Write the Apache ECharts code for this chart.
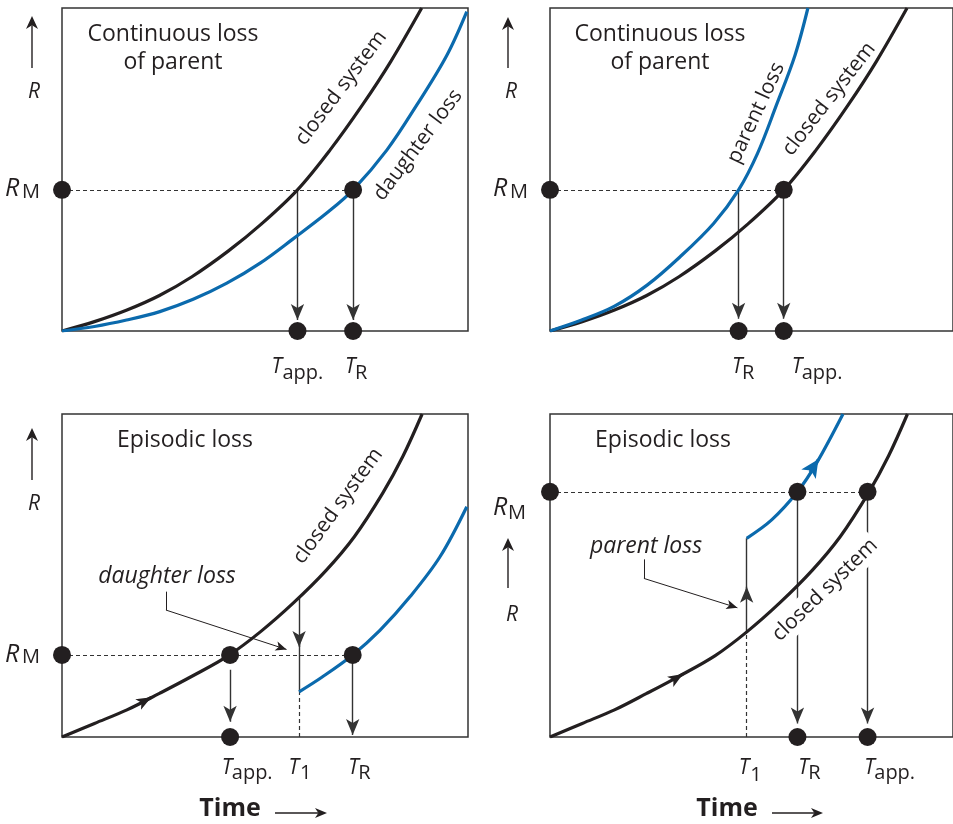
<!DOCTYPE html>
<html>
<head>
<meta charset="utf-8">
<script src="https://cdn.jsdelivr.net/npm/echarts@6/dist/echarts.min.js"></script>
<style>
  html, body { margin: 0; padding: 0; background: #fff; }
  #main { width: 953px; height: 824px; }
</style>
</head>
<body>
<div id="main"></div>
<script>
var INK = '#231f20', BLUE = '#0b6aad', RULE = '#333333';
var SANS = '"Open Sans", "Noto Sans", sans-serif';

// closed-system growth curve (time %, R %), top row and bottom row
var closedTopT = [0, 8, 16, 24, 32, 41, 49, 58, 66, 74, 81, 88.6];
var closedTopR = [0, 2.9, 6.5, 11, 16.8, 24.8, 33, 43.7, 56, 70, 83.5, 100];
var closedBotT = [0, 8, 16, 24, 32, 41, 49, 57, 65, 72, 79, 84, 88.7];
var closedBotR = [0, 4.2, 8.4, 13.5, 18.8, 25.2, 32.7, 41.5, 51.5, 62, 75.5, 87, 100];

// continuous daughter loss (panel A) / parent loss (panel B)
var daughterAT = [0, 8, 15.9, 24.1, 32.3, 40.6, 48.8, 57, 65.2, 71.7, 80, 87.4, 94.8, 99.7];
var daughterAR = [0, 1.4, 3.4, 6, 9.8, 14.8, 21, 28.6, 36.5, 43.7, 56, 70, 85.4, 98.9];
var parentBT = [0, 7.7, 15.9, 24.1, 32.3, 40.6, 46.8, 51.5, 56.2, 60.8, 64];
var parentBR = [0, 3.3, 7.6, 14.2, 23, 33.3, 43.7, 55, 70, 85.4, 100];

// episodic loss after T1 (panel C daughter, panel D parent)
var daughterCT = [58.4, 64, 71.6, 78.3, 85.7, 93.1, 99.7];
var daughterCR = [14, 18.5, 25.4, 33, 43.4, 55.8, 71.3];
var parentDT = [48.8, 55, 61.4, 66.1, 72.7];
var parentDR = [61.5, 67.2, 75.9, 84.7, 100];

var rmLevel = [43.7, 43.7, 25.4, 75.9];
var tApp = [58, 58, 41.4, 78.8];
var tR = [71.7, 46.8, 71.6, 61.4];
var t1 = [null, null, 58.4, 48.8];
var rBeforeT1 = [null, null, 43, 32.6];
var rAfterT1 = [null, null, 14, 61.5];

var chart = echarts.init(document.getElementById('main'));

function pairs(xs, ys) {
  return xs.map(function (x, i) { return [x, ys[i]]; });
}

function curve(i, xs, ys, color) {
  return {
    type: 'line', xAxisIndex: i, yAxisIndex: i, data: pairs(xs, ys),
    smooth: 0.35, showSymbol: false, symbol: 'none',
    lineStyle: { color: color, width: 3.2, opacity: 1 }, z: 3, silent: true, animation: false
  };
}

// straight segments; with an arrow the head tip sits on the last point
function segs(i, list, style, arrow, z) {
  style.opacity = 1;
  return {
    type: 'lines', coordinateSystem: 'cartesian2d', xAxisIndex: i, yAxisIndex: i,
    data: list.map(function (c) { return { coords: c }; }),
    symbol: arrow ? ['none', 'arrow'] : 'none',
    symbolSize: arrow ? [0, arrow] : 0,
    lineStyle: style, itemStyle: { color: style.color, opacity: 1 },
    z: z || 2, silent: true, animation: false
  };
}

function dots(i, pts) {
  return {
    type: 'scatter', xAxisIndex: i, yAxisIndex: i, data: pts, symbolSize: 18,
    itemStyle: { color: INK, opacity: 1 }, z: 6, clip: false, silent: true, animation: false
  };
}

function dashed() { return { color: RULE, width: 1.2, type: [4, 3] }; }
function drop() { return { color: RULE, width: 1.4 }; }
function leader() { return { color: INK, width: 1 }; }
var DROP_HEAD = [10, 16];

var grids = [
  { left: 62, top: 8, width: 406, height: 323 },
  { left: 550, top: 8, width: 406, height: 323 },
  { left: 62, top: 414, width: 406, height: 323 },
  { left: 550, top: 414, width: 406, height: 323 }
].map(function (g) {
  g.show = true; g.borderColor = RULE; g.borderWidth = 1.5;
  return g;
});

var xAxes = [], yAxes = [];
for (var k = 0; k < 4; k++) {
  xAxes.push({ gridIndex: k, type: 'value', min: 0, max: 100, show: false });
  yAxes.push({ gridIndex: k, type: 'value', min: 0, max: 100, show: false });
}

var rm = rmLevel;
var series = [
  // A: continuous loss of daughter
  curve(0, closedTopT, closedTopR, INK),
  curve(0, daughterAT, daughterAR, BLUE),
  segs(0, [[[0, rm[0]], [tR[0], rm[0]]]], dashed()),
  segs(0, [[[tApp[0], rm[0]], [tApp[0], 3.4]], [[tR[0], rm[0]], [tR[0], 3.4]]], drop(), DROP_HEAD),
  dots(0, [[0, rm[0]], [tR[0], rm[0]], [tApp[0], 0], [tR[0], 0]]),

  // B: continuous loss of parent
  curve(1, closedTopT, closedTopR, INK),
  curve(1, parentBT, parentBR, BLUE),
  segs(1, [[[0, rm[1]], [tApp[1], rm[1]]]], dashed()),
  segs(1, [[[tR[1], rm[1]], [tR[1], 3.8]], [[tApp[1], rm[1]], [tApp[1], 3.8]]], drop(), DROP_HEAD),
  dots(1, [[0, rm[1]], [tApp[1], rm[1]], [tR[1], 0], [tApp[1], 0]]),

  // C: episodic daughter loss
  curve(2, closedBotT, closedBotR, INK),
  curve(2, daughterCT, daughterCR, BLUE),
  segs(2, [[[0, rm[2]], [tR[2], rm[2]]], [[t1[2], 0], [t1[2], rAfterT1[2]]]], dashed()),
  segs(2, [[[tApp[2], 20.8], [tApp[2], 4.7]], [[tR[2], rm[2]], [tR[2], 0.6]],
           [[t1[2], rBeforeT1[2]], [t1[2], 27.9]]], drop(), DROP_HEAD),
  segs(2, [[[t1[2], 30], [t1[2], rAfterT1[2]]]], drop()),
  segs(2, [[[19.5, 10.6], [22, 12.3]]], { color: INK, width: 3 }, [9, 15], 4),
  segs(2, [[[25.6, 45], [25.6, 39.3]]], leader()),
  segs(2, [[[25.6, 39.3], [55.3, 27.1]]], leader(), [7, 11]),
  dots(2, [[0, rm[2]], [tApp[2], rm[2]], [tR[2], rm[2]], [tApp[2], 0]]),

  // D: episodic parent loss
  curve(3, closedBotT, closedBotR, INK),
  curve(3, parentDT, parentDR, BLUE),
  segs(3, [[[0, rm[3]], [tApp[3], rm[3]]], [[t1[3], 0], [t1[3], rBeforeT1[3]]]], dashed()),
  segs(3, [[[tR[3], rm[3]], [tR[3], 4.2]], [[tApp[3], rm[3]], [tApp[3], 4.2]],
           [[t1[3], rBeforeT1[3]], [t1[3], 46.5]]], drop(), DROP_HEAD),
  segs(3, [[[t1[3], 44], [t1[3], rAfterT1[3]]]], drop()),
  segs(3, [[[30.5, 17.6], [33, 19.5]]], { color: INK, width: 3 }, [9, 15], 4),
  segs(3, [[[64.5, 82], [66.6, 86]]], { color: BLUE, width: 3 }, [13, 18], 4),
  segs(3, [[[23.3, 55], [23.3, 49.1]]], leader()),
  segs(3, [[[23.3, 49.1], [46.5, 40]]], leader(), [7, 11]),
  dots(3, [[0, rm[3]], [tR[3], rm[3]], [tApp[3], rm[3]], [tR[3], 0], [tApp[3], 0]])
];

chart.setOption({
  animation: false,
  backgroundColor: '#fff',
  grid: grids, xAxis: xAxes, yAxis: yAxes,
  series: series
});

// ---- text and axis decorations ----
function px(i, x, y) { return chart.convertToPixel({ gridIndex: i }, [x, y]); }

function txt(x, y, text, font, o) {
  o = o || {};
  var st = {
    text: text, x: 0, y: 0, font: font, fill: INK,
    align: o.align || 'center', verticalAlign: 'middle'
  };
  if (o.lh) st.lineHeight = o.lh;
  if (o.bg) { st.backgroundColor = o.bg; st.padding = o.pad || [2, 3]; }
  return {
    type: 'text', x: x, y: y, rotation: (o.rot || 0) * Math.PI / 180,
    z: o.z || 10, silent: true, style: st
  };
}

function arrowG(x1, y1, x2, y2, len, half, lw) {
  var dx = x2 - x1, dy = y2 - y1, d = Math.sqrt(dx * dx + dy * dy);
  var ux = dx / d, uy = dy / d;
  var bx = x2 - ux * len, by = y2 - uy * len;
  var nx = x2 - ux * len * 0.72, ny = y2 - uy * len * 0.72;
  return [
    { type: 'line', z: 10, silent: true, shape: { x1: x1, y1: y1, x2: nx, y2: ny },
      style: { stroke: INK, lineWidth: lw } },
    { type: 'polygon', z: 10, silent: true,
      shape: { points: [[x2, y2], [bx - uy * half, by + ux * half], [nx, ny], [bx + uy * half, by - ux * half]] },
      style: { fill: INK } }
  ];
}

var g = [];
var F = function (s, size) { return s + ' ' + size + 'px ' + SANS; };

// panel titles
g.push(txt(173, 48, 'Continuous loss\nof parent', F('normal', 23), { lh: 28 }));
g.push(txt(660, 48, 'Continuous loss\nof parent', F('normal', 23), { lh: 28 }));
g.push(txt(185, 440, 'Episodic loss', F('normal', 23)));
g.push(txt(663, 440, 'Episodic loss', F('normal', 23)));

// curve names
g.push(txt(341, 88, 'closed system', F('normal', 21), { rot: 53 }));
g.push(txt(418, 145, 'daughter loss', F('normal', 21), { rot: 53 }));
g.push(txt(756, 113, 'parent loss', F('normal', 21), { rot: 65 }));
g.push(txt(829, 99, 'closed system', F('normal', 21), { rot: 52 }));
g.push(txt(338, 506, 'closed system', F('normal', 21), { rot: 54 }));
g.push(txt(825, 590, 'closed system', F('normal', 21), { rot: 44, bg: '#fff', pad: [3, 2], z: 2.5 }));

// leader captions
g.push(txt(167, 576, 'daughter loss', F('italic', 23)));
g.push(txt(646, 546, 'parent loss', F('italic', 23)));

// R axis arrows and labels
[[32, 68, 16, 34, 92], [508, 68, 17, 511, 92], [32, 480, 428, 34, 504], [508, 588, 538, 512, 615]]
  .forEach(function (a) {
    g = g.concat(arrowG(a[0], a[1], a[0], a[2], 13, 6, 1.4));
    g.push(txt(a[3], a[4], 'R', F('italic', 21)));
  });

// R_M labels next to the dots on the R axis
rmLevel.forEach(function (v, i) {
  var p = px(i, 0, v);
  var below = i === 3;
  g.push(txt(p[0] - 57, p[1] + (below ? 16 : -0.5), 'R', F('italic', 25), { align: 'left' }));
  g.push(txt(p[0] - (below ? 42 : 40), p[1] + (below ? 21 : 2.5), 'M', F('normal', 20), { align: 'left' }));
});

// time-axis labels
var tLabels = [
  [0, tApp[0], 'app.', -26, -15], [0, tR[0], 'R', -8, 2],
  [1, tR[1], 'R', -6.7, 3.3], [1, tApp[1], 'app.', 8, 18],
  [2, tApp[2], 'app.', -8.3, 1.7], [2, t1[2], '1', -10.7, 1], [2, tR[2], 'R', -4.4, 5.6],
  [3, t1[3], '1', -8, 3.7], [3, tR[3], 'R', 0.7, 10.7], [3, tApp[3], 'app.', -3.3, 6.7]
];
tLabels.forEach(function (l) {
  var p = px(l[0], l[1], 0);
  var top = l[0] < 2;
  var dyT = top ? 36.5 : 31;
  var dyS = top ? 42.5 : (l[0] === 3 && l[2] === '1' ? 38 : 36);
  g.push(txt(p[0] + l[3], p[1] + dyT, 'T', F('italic', 21), { align: 'left' }));
  g.push(txt(p[0] + l[4], p[1] + dyS, l[2], F('normal', 20), { align: 'left' }));
});

// Time captions
g.push(txt(230, 809, 'Time', F('bold', 25)));
g = g.concat(arrowG(275, 813, 327, 813, 12, 5, 1.4));
g.push(txt(727, 809, 'Time', F('bold', 25)));
g = g.concat(arrowG(772, 813, 823, 813, 12, 5, 1.4));

chart.setOption({ graphic: g });
</script>
</body>
</html>
